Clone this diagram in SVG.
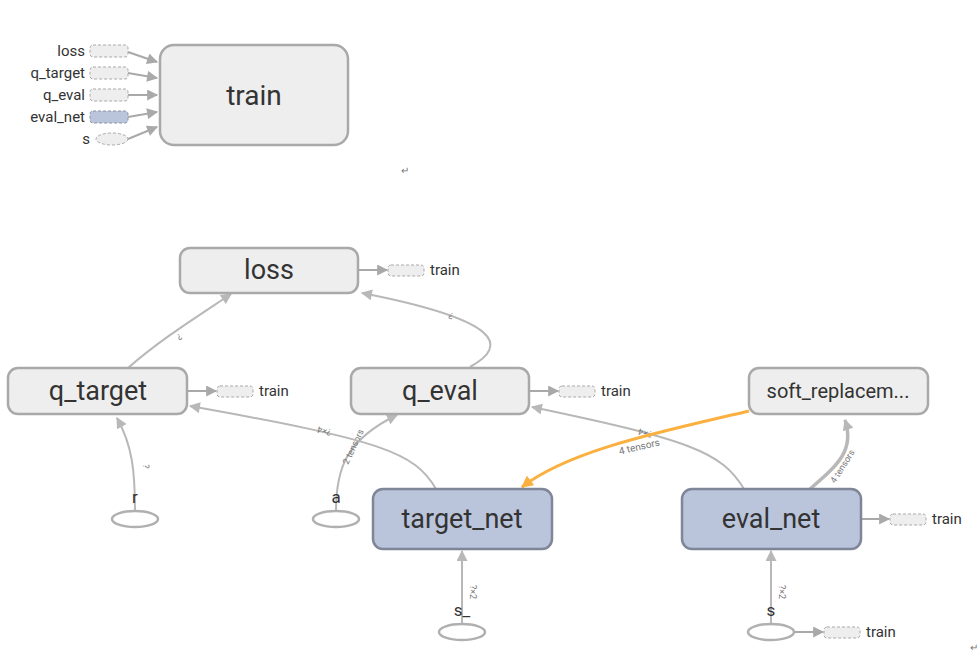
<svg xmlns="http://www.w3.org/2000/svg" width="980" height="652" viewBox="0 0 980 652">
<style>
text{font-family:Roboto,"Liberation Sans",sans-serif;fill:#333}
.big{font-size:27px;text-anchor:middle;dominant-baseline:central}
.mid{font-size:20px;text-anchor:middle;dominant-baseline:central}
.sm{font-size:15px}
.lab{font-size:15px;text-anchor:end}
.el{font-size:9px;fill:#777;text-anchor:middle}
.gn{fill:#eeeeee;stroke:#a9a9a9;stroke-width:2.5}
.bn{fill:#bac5dc;stroke:#7e8698;stroke-width:2.5}
.ph{fill:#eeeeee;stroke:#a9a9a9;stroke-width:1;stroke-dasharray:3,2}
.phb{fill:#bac5dc;stroke:#8a93a5;stroke-width:1;stroke-dasharray:3,2}
.inp{fill:#fff;stroke:#b0b0b0;stroke-width:2.5}
.e{fill:none;stroke:#b8b8b8;stroke-width:2;marker-end:url(#ar)}
.ed{fill:none;stroke:#a9a9a9;stroke-width:2;marker-end:url(#ar2)}
.mark{font-size:10px;fill:#777}
</style>
<defs>
<marker id="ar" viewBox="0 0 10 10" refX="9" refY="5" markerWidth="12" markerHeight="11" orient="auto" markerUnits="userSpaceOnUse"><path d="M0,0 L10,5 L0,10 z" fill="#b8b8b8"/></marker>
<marker id="ar2" viewBox="0 0 10 10" refX="9" refY="5" markerWidth="12" markerHeight="11" orient="auto" markerUnits="userSpaceOnUse"><path d="M0,0 L10,5 L0,10 z" fill="#a9a9a9"/></marker>
<marker id="aro" viewBox="0 0 10 10" refX="9" refY="5" markerWidth="13" markerHeight="12" orient="auto" markerUnits="userSpaceOnUse"><path d="M0,0 L10,5 L0,10 z" fill="#fbb040"/></marker>
</defs>

<g id="connectors">
<!-- train inputs -->
<path class="ed" d="M128,52 L157,62"/>
<path class="ed" d="M128,73 L157,78"/>
<path class="ed" d="M128,95 L157,95"/>
<path class="ed" d="M128,117 L157,112"/>
<path class="ed" d="M128,139 L157,127"/>
<!-- to train placeholders -->
<path class="ed" d="M358,270 L387,270"/>
<path class="ed" d="M187,391 L216,391"/>
<path class="ed" d="M530,391 L558,391"/>
<path class="ed" d="M861,519 L889,519"/>
<path class="ed" d="M794,632 L823,632"/>
<!-- q_target -> loss -->
<path class="e" d="M128,368 C160,340 192,320 231,294"/>
<text class="el" transform="translate(178,334) rotate(150)">?</text>
<!-- q_eval -> loss -->
<path class="e" d="M470,367 C510,345 500,320 362,293"/>
<text class="el" transform="translate(452,313) rotate(200)">?</text>
<!-- r -> q_target -->
<path class="e" d="M135,511 C135,470 132,445 117,418"/>
<text class="el" transform="translate(143,466) rotate(95)">?</text>
<!-- a -> q_eval -->
<path class="e" d="M336,511 C336,470 345,440 397,415"/>
<text class="el" transform="translate(356,448) rotate(-65)">2 tensors</text>
<!-- target_net -> q_target -->
<path class="e" d="M436,489 C415,452 380,440 190,406"/>
<text class="el" transform="translate(325,428) rotate(195)">?×4</text>
<!-- eval_net -> q_eval -->
<path class="e" d="M744,489 C722,452 690,440 532,407"/>
<text class="el" transform="translate(646,430) rotate(195)">?×4</text>
<!-- eval_net -> soft_replacement -->
<path d="M810,489 C838,465 855,450 845,420" fill="none" stroke="#b8b8b8" stroke-width="3.5" marker-end="url(#ar)"/>
<text class="el" transform="translate(845,468) rotate(-58)">4 tensors</text>
<!-- soft_replacement -> target_net (orange) -->
<path d="M749,411 C660,432 570,450 522,487" fill="none" stroke="#fbb040" stroke-width="3" marker-end="url(#aro)"/>
<text class="el" style="font-size:10px" transform="translate(640,450) rotate(-13)">4 tensors</text>
<!-- s_ -> target_net -->
<path class="e" d="M462,624 L462,551"/>
<text class="el" transform="translate(470,592) rotate(90)">?×2</text>
<!-- s -> eval_net -->
<path class="e" d="M771,624 L771,551"/>
<text class="el" transform="translate(779,592) rotate(90)">?×2</text>
</g>

<g id="train-inputs">
<text class="lab" x="85" y="56">loss</text>
<rect class="ph" x="90" y="45" width="38" height="12" rx="3"/>
<text class="lab" x="85" y="78">q_target</text>
<rect class="ph" x="90" y="67" width="38" height="12" rx="3"/>
<text class="lab" x="85" y="100">q_eval</text>
<rect class="ph" x="90" y="89" width="38" height="12" rx="3"/>
<text class="lab" x="85" y="122">eval_net</text>
<rect class="phb" x="90" y="111" width="38" height="12" rx="3"/>
<text class="lab" x="90" y="144">s</text>
<ellipse class="ph" cx="112" cy="139" rx="16" ry="6"/>
</g>

<g id="node-train">
<rect class="gn" x="160" y="45" width="188" height="100" rx="14"/>
<text class="big" x="254" y="95" style="font-size:28px">train</text>
</g>

<g id="node-loss">
<rect class="gn" x="180" y="248" width="178" height="45" rx="10"/>
<text class="big" x="269" y="270">loss</text>
<rect class="ph" x="388" y="265" width="36" height="11" rx="3"/>
<text class="sm" x="430" y="275">train</text>
</g>

<g id="node-q_target">
<rect class="gn" x="8" y="368" width="179" height="46" rx="10"/>
<text class="big" x="98" y="391">q_target</text>
<rect class="ph" x="217" y="386" width="36" height="11" rx="3"/>
<text class="sm" x="259" y="396">train</text>
</g>

<g id="node-q_eval">
<rect class="gn" x="351" y="368" width="178" height="46" rx="10"/>
<text class="big" x="440" y="391">q_eval</text>
<rect class="ph" x="559" y="386" width="36" height="11" rx="3"/>
<text class="sm" x="601" y="396">train</text>
</g>

<g id="node-soft_replacement">
<rect class="gn" x="749" y="368" width="179" height="46" rx="10"/>
<text class="mid" x="838" y="391">soft_replacem...</text>
</g>

<g id="node-target_net">
<rect class="bn" x="373" y="489" width="179" height="60" rx="10"/>
<text class="big" x="462" y="519">target_net</text>
</g>

<g id="node-eval_net">
<rect class="bn" x="682" y="489" width="179" height="60" rx="10"/>
<text class="big" x="771" y="519">eval_net</text>
<rect class="ph" x="890" y="514" width="36" height="11" rx="3"/>
<text class="sm" x="932" y="524">train</text>
</g>

<g id="node-r">
<ellipse class="inp" cx="135" cy="519" rx="23" ry="8"/>
<text class="sm" x="135" y="503" text-anchor="middle" style="font-size:17px">r</text>
</g>

<g id="node-a">
<ellipse class="inp" cx="336" cy="519" rx="23" ry="8"/>
<text class="sm" x="336" y="503" text-anchor="middle" style="font-size:17px">a</text>
</g>

<g id="node-s_">
<ellipse class="inp" cx="462" cy="632" rx="23" ry="8"/>
<text class="sm" x="462" y="616" text-anchor="middle" style="font-size:17px">s_</text>
</g>

<g id="node-s">
<ellipse class="inp" cx="771" cy="632" rx="23" ry="8"/>
<text class="sm" x="771" y="616" text-anchor="middle" style="font-size:17px">s</text>
<rect class="ph" x="824" y="627" width="36" height="11" rx="3"/>
<text class="sm" x="866" y="637">train</text>
</g>

<text class="mark" x="401" y="174">↵</text>
<text class="mark" x="970" y="651">↵</text>
</svg>
